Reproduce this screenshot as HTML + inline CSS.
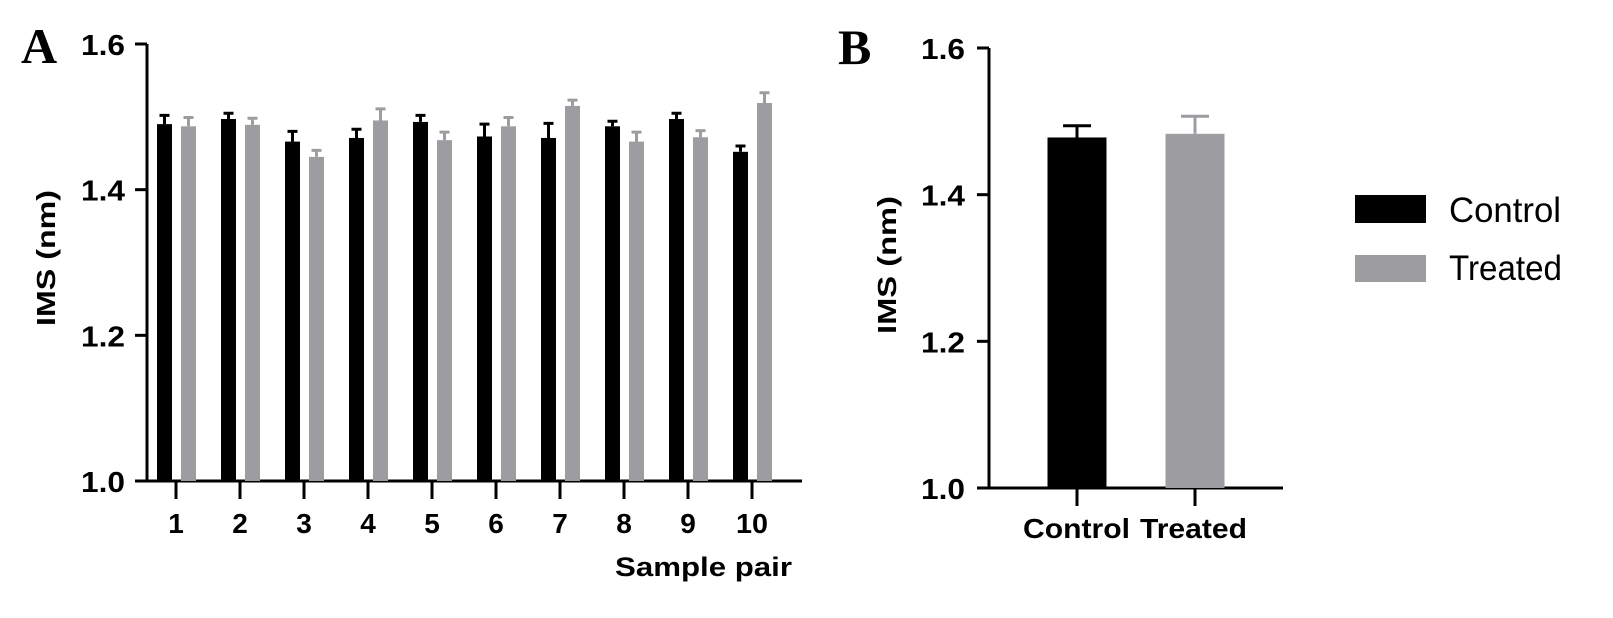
<!DOCTYPE html>
<html><head><meta charset="utf-8"><style>
body{margin:0;background:#fff;}
</style></head><body>
<svg width="1613" height="613" viewBox="0 0 1613 613" xmlns="http://www.w3.org/2000/svg" style="font-family:'Liberation Sans',Arial,sans-serif">
<g id="A"></g>
<g id="B"></g>
<g>
 <g><rect x="1355" y="195" width="71" height="28" fill="#000"/><text x="1449" y="222" font-size="35" textLength="112" lengthAdjust="spacingAndGlyphs">Control</text></g>
 <g><rect x="1355" y="255" width="71" height="27" fill="#9d9ca1"/><text x="1449" y="280" font-size="35" textLength="113" lengthAdjust="spacingAndGlyphs">Treated</text></g>
</g>
</svg>
<script>
const pairs=['1','2','3','4','5','6','7','8','9','10'];
const ctrlA=[1.490,1.497,1.466,1.471,1.493,1.473,1.471,1.487,1.497,1.452];
const ctrlErrA=[0.012,0.008,0.014,0.012,0.009,0.017,0.020,0.007,0.008,0.008];
const trtA=[1.487,1.489,1.445,1.495,1.468,1.487,1.515,1.466,1.472,1.519];
const trtErrA=[0.012,0.009,0.009,0.016,0.011,0.012,0.008,0.013,0.009,0.014];
const yTicks=[1.0,1.2,1.4,1.6];
const groupsB=['Control','Treated'];
const valsB=[1.478,1.483];
const errsB=[0.016,0.024];
const NS='http://www.w3.org/2000/svg';
function mk(p,t,a,txt){const e=document.createElementNS(NS,t);for(const k in a)e.setAttribute(k,a[k]);if(txt!==undefined)e.textContent=txt;p.appendChild(e);return e;}
const GRAY='#9d9ca1';
function tickText(g,x,y,txt,anchor,len,size){
  const a={x:x,y:y,'font-size':size||28,'font-weight':'bold','text-anchor':anchor};
  if(len){a.textLength=len;a.lengthAdjust='spacingAndGlyphs';}
  return mk(g,'text',a,txt);
}
// Panel A
(function(){
 const g=document.getElementById('A');
 const y=v=>481-(v-1.0)*(481-44)/0.6;
 const x0=147, x1=802;
 let l=mk(g,'text',{x:21,y:63,'font-size':50,'font-weight':'bold',style:"font-family:'Liberation Serif',serif"},'A');
 
 let ax=mk(g,'path',{d:`M${x0} ${y(1.6)}V${y(1.0)}M${x0-12} ${y(1.0)}H${x1}`,stroke:'#000','stroke-width':3,fill:'none'});
 
 yTicks.forEach(t=>{
  mk(g,'line',{x1:x0-12,x2:x0,y1:y(t),y2:y(t),stroke:'#000','stroke-width':3});
  const tx=tickText(g,x0-22,y(t)+11,t.toFixed(1),'end',44,29);
  
 });
 const yt=mk(g,'text',{x:0,y:0,'font-size':26,'font-weight':'bold','text-anchor':'middle',textLength:136,lengthAdjust:'spacingAndGlyphs',transform:`translate(55,258) rotate(-90)`},'IMS (nm)');
 
 const step=64, bw=15;
 pairs.forEach((p,i)=>{
  const cx=176+i*step;
  [[ctrlA[i],ctrlErrA[i],'#000',cx-19],[trtA[i],trtErrA[i],GRAY,cx+5]].forEach(([v,e,c,bx],k)=>{
   const r=mk(g,'rect',{x:bx,y:y(v),width:bw,height:y(1.0)-y(v),fill:c});
   
   const m=bx+bw/2;
   mk(g,'path',{d:`M${m} ${y(v)}V${y(v+e)}M${m-5} ${y(v+e)}H${m+5}`,stroke:c,'stroke-width':3,fill:'none'});
  });
  mk(g,'line',{x1:cx,x2:cx,y1:y(1.0),y2:y(1.0)+18,stroke:'#000','stroke-width':3});
  const tl=tickText(g,cx,533,p,'middle',p.length>1?32:null);
  
 });
 const xt=tickText(g,615,576,'Sample pair','start',177,27);
 
})();
// Panel B
(function(){
 const g=document.getElementById('B');
 const y=v=>488-(v-1.0)*(488-48)/0.6;
 const x0=989,x1=1283;
 let l=mk(g,'text',{x:838,y:64,'font-size':50,'font-weight':'bold',style:"font-family:'Liberation Serif',serif"},'B');
 
 let ax=mk(g,'path',{d:`M${x0} ${y(1.6)}V${y(1.0)}M${x0-12} ${y(1.0)}H${x1}`,stroke:'#000','stroke-width':3,fill:'none'});
 
 yTicks.forEach(t=>{
  mk(g,'line',{x1:x0-12,x2:x0,y1:y(t),y2:y(t),stroke:'#000','stroke-width':3});
  const tx=tickText(g,x0-24,y(t)+11,t.toFixed(1),'end',44,29);
  
 });
 const yt=mk(g,'text',{x:0,y:0,'font-size':26,'font-weight':'bold','text-anchor':'middle',textLength:138,lengthAdjust:'spacingAndGlyphs',transform:`translate(896,265) rotate(-90)`},'IMS (nm)');
 
 const centers=[1077,1195];
 const labX=[1023,1140], labLen=[107,107];
 groupsB.forEach((gname,i)=>{
  const c=i?GRAY:'#000', cx=centers[i], bw=59;
  const r=mk(g,'rect',{x:cx-bw/2,y:y(valsB[i]),width:bw,height:y(1.0)-y(valsB[i]),fill:c});
  
  const v=valsB[i],e=errsB[i];
  mk(g,'path',{d:`M${cx} ${y(v)}V${y(v+e)}M${cx-14} ${y(v+e)}H${cx+14}`,stroke:c,'stroke-width':3,fill:'none'});
  mk(g,'line',{x1:cx,x2:cx,y1:y(1.0),y2:y(1.0)+18,stroke:'#000','stroke-width':3});
  const tl=tickText(g,labX[i],538,gname,'start',labLen[i]);
  
 });
})();
</script>
</body></html>
